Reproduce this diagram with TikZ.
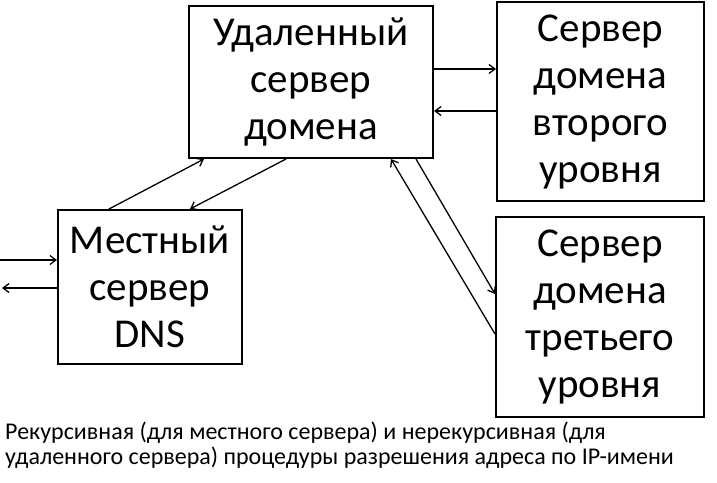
\documentclass[tikz,border=0pt]{standalone}
\usepackage{fontspec}
\setmainfont{Carlito}
\usetikzlibrary{positioning,arrows.meta,calc}

\begin{document}
\begin{tikzpicture}[
    x=1pt, y=-1pt,
    server/.style={rectangle, draw, line width=2pt, align=center, inner sep=0pt,
        anchor=north west, font=\fontsize{41}{47}\selectfont},
    link/.style={-{Straight Barb[length=6pt,width=9pt]}, line width=1.3pt}
]
\useasboundingbox (0,0) rectangle (717,482);

% Servers
\node[server, minimum width=244pt, minimum height=152pt] (remote) at (188,5)
    {Удаленный\\сервер\\домена};
\node[server, minimum width=207pt, minimum height=199pt] (second) at (496,1)
    {Сервер\\домена\\второго\\уровня};
\node[server, minimum width=208pt, minimum height=200pt] (third) at (495,216)
    {Сервер\\домена\\третьего\\уровня};
\node[server, minimum width=184pt, minimum height=154pt] (local) at (57,209)
    {Местный\\сервер\\DNS};

% Client side
\coordinate (query) at (0,260);
\coordinate (reply) at (2,288);
\draw[link] (query) -- (query -| local.west);
\draw[link] (reply -| local.west) -- (reply);

% Local <-> remote
\draw[link] ([xshift=-41pt]local.north) -- ([xshift=-107pt]remote.south);
\draw[link] ([xshift=-25pt]remote.south) -- ([xshift=40pt]local.north);

% Remote <-> second level
\draw[link] ([yshift=13pt]remote.east) -- ([yshift=13pt]remote.east -| second.west);
\draw[link] ([yshift=-29pt]remote.east -| second.west) -- ([yshift=-29pt]remote.east);

% Remote <-> third level
\draw[link] ([xshift=105pt]remote.south) -- ([yshift=23pt]third.west);
\draw[link] ([yshift=-17pt]third.west) -- ([xshift=80pt]remote.south);

% Caption
\node[anchor=north west, inner sep=0pt, align=left,
      font=\fontsize{24}{25}\selectfont] (caption) at (5,422)
    {Рекурсивная (для местного сервера) и нерекурсивная (для\\
     удаленного сервера) процедуры разрешения адреса по IP-имени};

\end{tikzpicture}
\end{document}
